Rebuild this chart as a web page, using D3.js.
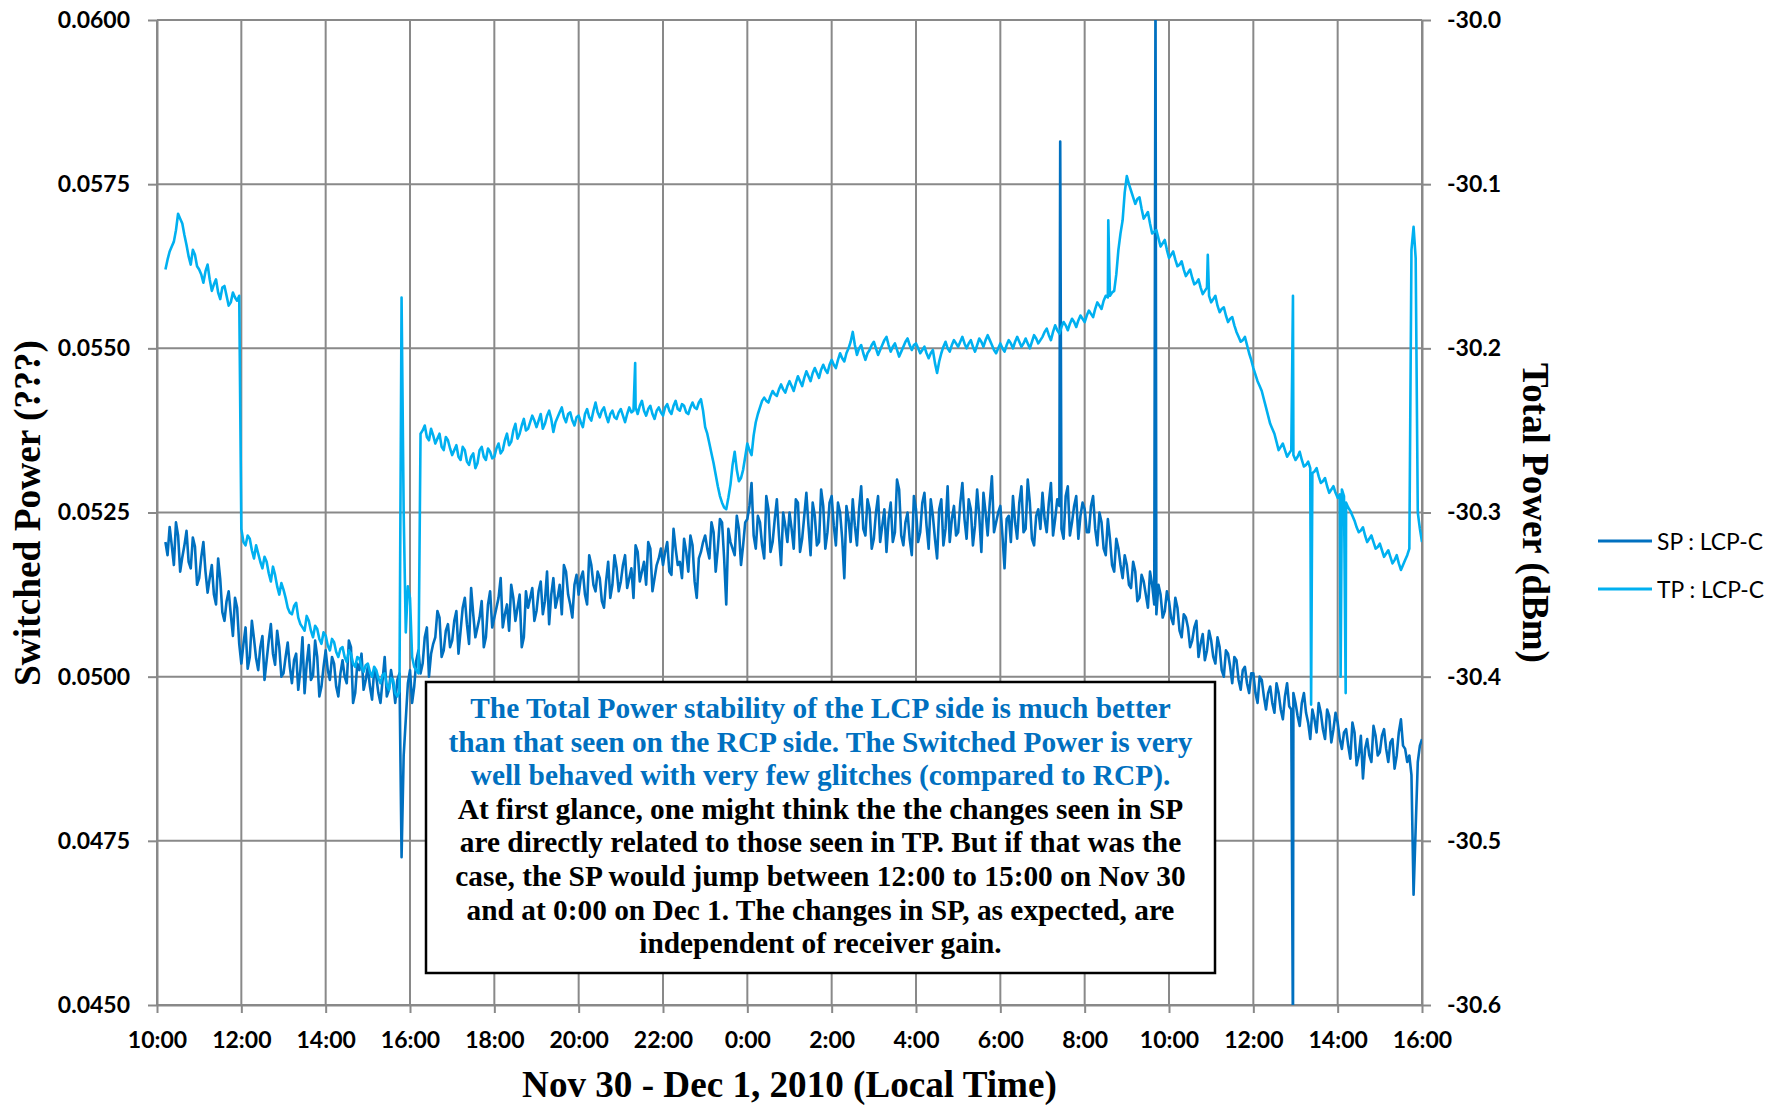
<!DOCTYPE html>
<html>
<head>
<meta charset="utf-8">
<script src="https://cdn.jsdelivr.net/npm/d3@7"></script>
<style>
  html, body { margin: 0; padding: 0; background: #ffffff; }
  svg { display: block; }
</style>
</head>
<body>
<script>
// ---------------- DATA ----------------
// Sampling grid: hours after 10:00 on Nov 30, 2010
const sampleStartHour = 0.2;   // main samples: 0.2, 0.3, ... 30.0
const midStartHour = 0.25;     // in-between samples: 0.25, 0.35, ... 29.95
const sampleStepHour = 0.1;

// Switched Power (left axis), main samples
const spValues = [
  0.05205, 0.05228, 0.05170, 0.05215, 0.05182, 0.05222, 0.05165, 0.05198,
  0.05150, 0.05205, 0.05128, 0.05170, 0.05110, 0.05148, 0.05085, 0.05130, 0.05062, 0.05105,
  0.05020, 0.05075, 0.05030, 0.05058, 0.05010, 0.05062, 0.05025, 0.05080, 0.05018, 0.05045,
  0.05005, 0.05052, 0.04990, 0.05035, 0.05010, 0.04975, 0.05048, 0.05002, 0.05030, 0.04985,
  0.05040, 0.04995, 0.05020, 0.04970, 0.05025, 0.04990, 0.05045, 0.04975, 0.05010, 0.04980,
  0.05015, 0.04965, 0.05000, 0.04960, 0.05030, 0.04980, 0.04990, 0.04995, 0.04725, 0.04935,
  0.05010, 0.04985, 0.05040, 0.05020, 0.05075, 0.05035, 0.05060, 0.05090, 0.05040, 0.05080,
  0.05055, 0.05100, 0.05070, 0.05120, 0.05050, 0.05095, 0.05075, 0.05115, 0.05060, 0.05130,
  0.05090, 0.05120, 0.05075, 0.05110, 0.05140, 0.05085, 0.05125, 0.05060, 0.05105, 0.05135,
  0.05100, 0.05145, 0.05115, 0.05080, 0.05150, 0.05120, 0.05095, 0.05160, 0.05110, 0.05140,
  0.05125, 0.05160, 0.05110, 0.05170, 0.05130, 0.05150, 0.05105, 0.05175, 0.05140, 0.05165,
  0.05145, 0.05185, 0.05150, 0.05120, 0.05190, 0.05160, 0.05140, 0.05195, 0.05150, 0.05180,
  0.05170, 0.05205, 0.05155, 0.05195, 0.05175, 0.05210, 0.05160, 0.05200, 0.05120, 0.05190,
  0.05215, 0.05180, 0.05220, 0.05195, 0.05235, 0.05110, 0.05205, 0.05185, 0.05225, 0.05200,
  0.05240, 0.05295, 0.05195, 0.05235, 0.05180, 0.05255, 0.05205, 0.05270, 0.05170, 0.05230,
  0.05250, 0.05195, 0.05265, 0.05210, 0.05280, 0.05185, 0.05245, 0.05205, 0.05260, 0.05220,
  0.05275, 0.05200, 0.05250, 0.05150, 0.05240, 0.05270, 0.05200, 0.05290, 0.05215, 0.05255,
  0.05210, 0.05275, 0.05230, 0.05190, 0.05265, 0.05220, 0.05285, 0.05200, 0.05250, 0.05185,
  0.05255, 0.05220, 0.05280, 0.05195, 0.05245, 0.05180, 0.05270, 0.05225, 0.05205, 0.05260,
  0.05220, 0.05295, 0.05210, 0.05255, 0.05230, 0.05245, 0.05280, 0.05215, 0.05305, 0.05235,
  0.05260, 0.05165, 0.05245, 0.05275, 0.05210, 0.05290, 0.05225, 0.05265, 0.05200, 0.05255,
  0.05280, 0.05220, 0.05295, 0.05240, 0.05260, 0.05210, 0.05290, 0.05235, 0.05275, 0.05245,
  0.05255, 0.05220, 0.05275, 0.05200, 0.05235, 0.05185, 0.05210, 0.05160, 0.05195, 0.05150,
  0.05170, 0.05135, 0.05160, 0.05120, 0.05145, 0.05105, 0.05140, 0.05095, 0.05125, 0.05100,
  0.05115, 0.05080, 0.05105, 0.05060, 0.05090, 0.05045, 0.05075, 0.05030, 0.05065, 0.05040,
  0.05055, 0.05020, 0.05045, 0.05000, 0.05035, 0.04990, 0.05025, 0.04980, 0.05015, 0.04975,
  0.05005, 0.04960, 0.04995, 0.04950, 0.04985, 0.04945, 0.04975, 0.04935, 0.04990, 0.04950,
  0.04960, 0.04925, 0.04975, 0.04930, 0.04950, 0.04915, 0.04945, 0.04905, 0.04940, 0.04920,
  0.04930, 0.04890, 0.04920, 0.04875, 0.04915, 0.04880, 0.04845, 0.04905, 0.04870, 0.04910,
  0.04885, 0.04920, 0.04870, 0.04905, 0.04880, 0.04935, 0.04890, 0.04880, 0.04668, 0.04870,
  0.04905
];
// Switched Power, in-between samples
const spMidValues = [
  0.05185, 0.05200, 0.05235, 0.05160, 0.05200, 0.05175, 0.05212, 0.05140,
  0.05182, 0.05160, 0.05150, 0.05125, 0.05180, 0.05098, 0.05115, 0.05095, 0.05120, 0.05050,
  0.05050, 0.05012, 0.05085, 0.05028, 0.05045, 0.04995, 0.05055, 0.05035, 0.05070, 0.05000,
  0.05030, 0.05015, 0.05025, 0.04980, 0.05060, 0.05020, 0.04995, 0.05055, 0.04970, 0.05015,
  0.05010, 0.05030, 0.04985, 0.05005, 0.05000, 0.05055, 0.04960, 0.05020, 0.05035, 0.04995,
  0.04985, 0.05010, 0.04975, 0.04995, 0.04970, 0.05010, 0.04960, 0.05005, 0.04880, 0.04990,
  0.04960, 0.05025, 0.05005, 0.05060, 0.05000, 0.05050, 0.05100, 0.05030, 0.05070, 0.05045,
  0.05085, 0.05035, 0.05105, 0.05080, 0.05135, 0.05060, 0.05090, 0.05045, 0.05110, 0.05075,
  0.05105, 0.05150, 0.05095, 0.05070, 0.05120, 0.05105, 0.05045, 0.05130, 0.05120, 0.05085,
  0.05130, 0.05095, 0.05160, 0.05125, 0.05105, 0.05140, 0.05170, 0.05125, 0.05090, 0.05155,
  0.05150, 0.05125, 0.05185, 0.05140, 0.05160, 0.05115, 0.05145, 0.05120, 0.05185, 0.05130,
  0.05170, 0.05135, 0.05165, 0.05200, 0.05145, 0.05175, 0.05205, 0.05130, 0.05170, 0.05195,
  0.05190, 0.05160, 0.05225, 0.05170, 0.05150, 0.05190, 0.05215, 0.05145, 0.05180, 0.05205,
  0.05195, 0.05235, 0.05160, 0.05240, 0.05180, 0.05225, 0.05195, 0.05245, 0.05170, 0.05235,
  0.05260, 0.05215, 0.05245, 0.05200, 0.05275, 0.05190, 0.05240, 0.05215, 0.05250, 0.05205,
  0.05225, 0.05270, 0.05190, 0.05245, 0.05230, 0.05265, 0.05200, 0.05285, 0.05195, 0.05265,
  0.05230, 0.05265, 0.05210, 0.05260, 0.05205, 0.05230, 0.05255, 0.05225, 0.05270, 0.05195,
  0.05250, 0.05205, 0.05255, 0.05240, 0.05205, 0.05300, 0.05215, 0.05235, 0.05210, 0.05275,
  0.05205, 0.05265, 0.05230, 0.05270, 0.05210, 0.05255, 0.05200, 0.05290, 0.05240, 0.05215,
  0.05265, 0.05240, 0.05270, 0.05200, 0.05285, 0.05190, 0.05250, 0.05265, 0.05220, 0.05250,
  0.05215, 0.05240, 0.05205, 0.05235, 0.05265, 0.05220, 0.05300, 0.05210, 0.05245, 0.05225,
  0.05240, 0.05265, 0.05215, 0.05270, 0.05225, 0.05275, 0.05215, 0.05260, 0.05210, 0.05265,
  0.05220, 0.05260, 0.05225, 0.05250, 0.05195, 0.05240, 0.05170, 0.05210, 0.05170, 0.05185,
  0.05140, 0.05175, 0.05115, 0.05155, 0.05125, 0.05160, 0.05110, 0.05140, 0.05090, 0.05130,
  0.05090, 0.05120, 0.05070, 0.05095, 0.05075, 0.05055, 0.05085, 0.05050, 0.05025, 0.05070,
  0.05030, 0.05060, 0.05010, 0.05040, 0.05015, 0.05030, 0.04995, 0.05010, 0.04990, 0.05005,
  0.04975, 0.05000, 0.04970, 0.04975, 0.04960, 0.04990, 0.04950, 0.04970, 0.04955, 0.04975,
  0.04940, 0.04960, 0.04945, 0.04905, 0.04935, 0.04960, 0.04920, 0.04950, 0.04900, 0.04945,
  0.04905, 0.04915, 0.04895, 0.04930, 0.04865, 0.04910, 0.04890, 0.04880, 0.04925, 0.04880,
  0.04910, 0.04890, 0.04900, 0.04860, 0.04915, 0.04895, 0.04870, 0.04850, 0.04770, 0.04895
];
// Narrow SP glitches [hour, value]
const spGlitches = [[21.42, 0.05815], [23.68, 0.06060], [26.94, 0.04440]];

// Total Power (right axis, dBm), main samples
const tpValues = [
  -30.152, -30.141, -30.135, -30.118, -30.124, -30.137, -30.149, -30.143,
  -30.152, -30.160, -30.149, -30.165, -30.158, -30.170, -30.162, -30.174, -30.166, -30.171,
  -30.310, -30.320, -30.316, -30.328, -30.325, -30.334, -30.330, -30.342, -30.338, -30.350,
  -30.347, -30.358, -30.362, -30.355, -30.368, -30.372, -30.366, -30.376, -30.371, -30.380,
  -30.375, -30.384, -30.379, -30.388, -30.382, -30.391, -30.386, -30.394, -30.389, -30.397,
  -30.392, -30.400, -30.396, -30.404, -30.398, -30.408, -30.402, -30.412, -30.169, -30.373,
  -30.352, -30.394, -30.398, -30.250, -30.254, -30.249, -30.258, -30.252, -30.262, -30.256,
  -30.265, -30.259, -30.268, -30.262, -30.271, -30.264, -30.270, -30.260, -30.268, -30.263,
  -30.266, -30.258, -30.262, -30.252, -30.257, -30.246, -30.252, -30.243, -30.249, -30.241,
  -30.248, -30.240, -30.246, -30.238, -30.251, -30.242, -30.236, -30.245, -30.239, -30.247,
  -30.241, -30.248, -30.237, -30.244, -30.233, -30.242, -30.236, -30.245, -30.238, -30.243,
  -30.237, -30.245, -30.236, -30.238, -30.240, -30.232, -30.241, -30.235, -30.243, -30.236,
  -30.241, -30.234, -30.240, -30.232, -30.238, -30.235, -30.240, -30.233, -30.237, -30.231,
  -30.248, -30.258, -30.270, -30.284, -30.294, -30.298, -30.283, -30.263, -30.281, -30.274,
  -30.258, -30.265, -30.245, -30.236, -30.230, -30.233, -30.226, -30.229, -30.222, -30.227,
  -30.220, -30.226, -30.217, -30.223, -30.214, -30.220, -30.212, -30.218, -30.210, -30.215,
  -30.207, -30.212, -30.203, -30.208, -30.200, -30.190, -30.204, -30.198, -30.207, -30.201,
  -30.196, -30.204, -30.198, -30.193, -30.202, -30.197, -30.205, -30.199, -30.194, -30.201,
  -30.197, -30.203, -30.199, -30.206, -30.201, -30.215, -30.203, -30.196, -30.202, -30.195,
  -30.199, -30.193, -30.200, -30.195, -30.202, -30.194, -30.199, -30.192, -30.198, -30.203,
  -30.197, -30.202, -30.195, -30.200, -30.193, -30.199, -30.194, -30.200, -30.192, -30.197,
  -30.193, -30.188, -30.195, -30.186, -30.191, -30.184, -30.189, -30.182, -30.187, -30.180,
  -30.184, -30.177, -30.181, -30.172, -30.176, -30.168, -30.168, -30.165, -30.140, -30.122,
  -30.095, -30.104, -30.112, -30.108, -30.121, -30.117, -30.130, -30.128, -30.138, -30.134,
  -30.145, -30.141, -30.150, -30.147, -30.156, -30.152, -30.161, -30.158, -30.167, -30.163,
  -30.172, -30.168, -30.178, -30.175, -30.184, -30.181, -30.190, -30.196, -30.193, -30.203,
  -30.212, -30.220, -30.226, -30.236, -30.246, -30.252, -30.262, -30.258, -30.266, -30.262,
  -30.268, -30.263, -30.272, -30.269, -30.276, -30.273, -30.282, -30.279, -30.288, -30.284,
  -30.291, -30.286, -30.294, -30.299, -30.305, -30.312, -30.309, -30.318, -30.314, -30.322,
  -30.319, -30.327, -30.323, -30.331, -30.326, -30.335, -30.329, -30.322, -30.126, -30.300,
  -30.318
];
// Total Power, in-between samples
const tpMidValues = [
  -30.146, -30.138, -30.128, -30.121, -30.131, -30.144, -30.140, -30.150,
  -30.155, -30.153, -30.158, -30.161, -30.166, -30.163, -30.168, -30.172, -30.169, -30.168,
  -30.318, -30.314, -30.323, -30.320, -30.330, -30.327, -30.337, -30.333, -30.345, -30.343,
  -30.352, -30.361, -30.357, -30.364, -30.370, -30.363, -30.372, -30.369, -30.377, -30.373,
  -30.381, -30.377, -30.385, -30.383, -30.388, -30.384, -30.392, -30.388, -30.394, -30.393,
  -30.397, -30.394, -30.401, -30.399, -30.405, -30.401, -30.410, -30.409, -30.300, -30.345,
  -30.388, -30.396, -30.252, -30.247, -30.256, -30.253, -30.255, -30.260, -30.254, -30.261,
  -30.262, -30.266, -30.260, -30.269, -30.266, -30.273, -30.262, -30.266, -30.261, -30.267,
  -30.261, -30.264, -30.256, -30.259, -30.250, -30.255, -30.247, -30.250, -30.245, -30.244,
  -30.244, -30.249, -30.241, -30.243, -30.245, -30.239, -30.242, -30.240, -30.244, -30.242,
  -30.245, -30.240, -30.242, -30.238, -30.239, -30.238, -30.241, -30.240, -30.242, -30.239,
  -30.241, -30.240, -30.239, -30.236, -30.235, -30.238, -30.237, -30.240, -30.238, -30.239,
  -30.236, -30.238, -30.235, -30.237, -30.234, -30.239, -30.236, -30.236, -30.233, -30.238,
  -30.252, -30.264, -30.277, -30.290, -30.297, -30.291, -30.271, -30.274, -30.279, -30.266,
  -30.262, -30.253, -30.240, -30.232, -30.232, -30.229, -30.228, -30.225, -30.225, -30.223,
  -30.223, -30.221, -30.220, -30.218, -30.217, -30.215, -30.215, -30.213, -30.213, -30.210,
  -30.210, -30.207, -30.206, -30.203, -30.196, -30.198, -30.200, -30.203, -30.203, -30.198,
  -30.200, -30.201, -30.195, -30.198, -30.199, -30.201, -30.202, -30.196, -30.198, -30.198,
  -30.200, -30.201, -30.203, -30.203, -30.209, -30.208, -30.199, -30.200, -30.198, -30.197,
  -30.196, -30.197, -30.197, -30.199, -30.198, -30.196, -30.195, -30.195, -30.201, -30.200,
  -30.200, -30.198, -30.197, -30.196, -30.196, -30.197, -30.197, -30.196, -30.194, -30.195,
  -30.190, -30.192, -30.190, -30.189, -30.187, -30.186, -30.185, -30.184, -30.183, -30.182,
  -30.180, -30.179, -30.176, -30.174, -30.171, -30.169, -30.166, -30.155, -30.130, -30.105,
  -30.100, -30.108, -30.109, -30.115, -30.119, -30.124, -30.129, -30.133, -30.136, -30.140,
  -30.143, -30.146, -30.149, -30.152, -30.154, -30.157, -30.160, -30.163, -30.165, -30.168,
  -30.170, -30.174, -30.176, -30.180, -30.182, -30.186, -30.193, -30.195, -30.198, -30.207,
  -30.216, -30.223, -30.231, -30.241, -30.249, -30.257, -30.260, -30.262, -30.264, -30.265,
  -30.266, -30.268, -30.271, -30.273, -30.275, -30.278, -30.281, -30.284, -30.286, -30.288,
  -30.289, -30.290, -30.297, -30.302, -30.309, -30.311, -30.314, -30.316, -30.318, -30.321,
  -30.323, -30.325, -30.327, -30.329, -30.331, -30.332, -30.326, -30.140, -30.145, -30.310
];
// Narrow TP glitches [hour, value]
const tpGlitches = [[11.34, -30.209], [22.56, -30.122], [24.92, -30.143], [26.94, -30.168],
                    [27.37, -30.417], [28.07, -30.400], [28.19, -30.410]];

const spTicks = [0.0450, 0.0475, 0.0500, 0.0525, 0.0550, 0.0575, 0.0600];
const tpTicks = [-30.6, -30.5, -30.4, -30.3, -30.2, -30.1, -30.0];
const xTickHours = [0, 2, 4, 6, 8, 10, 12, 14, 16, 18, 20, 22, 24, 26, 28, 30];

const seriesNames = ["SP : LCP-C", "TP : LCP-C"];
const seriesColors = ["#0070C0", "#00B0F0"];

const xTitle = "Nov 30 - Dec 1, 2010 (Local Time)";
const yLeftTitle = "Switched Power (???)";
const yRightTitle = "Total Power (dBm)";

const noteLines = [
  {text: "The Total Power stability of the LCP side is much better", color: "#0070C0", w: 703},
  {text: "than that seen on the RCP side. The Switched Power is very", color: "#0070C0", w: 744},
  {text: "well behaved with very few glitches (compared to RCP).", color: "#0070C0", w: 698},
  {text: "At first glance, one might think the the changes seen in SP", color: "#000000", w: 723},
  {text: "are directly related to those seen in TP. But if that was the", color: "#000000", w: 723},
  {text: "case, the SP would jump between 12:00 to 15:00 on Nov 30", color: "#000000", w: 731},
  {text: "and at 0:00 on Dec 1. The changes in SP, as expected, are", color: "#000000", w: 710},
  {text: "independent of receiver gain.", color: "#000000", w: 362}
];

// ---------------- LAYOUT ----------------
const W = 1778, H = 1105;
const plot = {left: 157, right: 1422, top: 20, bottom: 1005};
const gridColor = "#898989";
const tickFont = "Lato, 'DejaVu Sans', sans-serif";
const serif = "'Liberation Serif', 'Times New Roman', serif";

const startDate = new Date(2010, 10, 30, 10, 0, 0);
const toDate = h => new Date(startDate.getTime() + h * 3600e3);

const x = d3.scaleTime().domain([toDate(0), toDate(30)]).range([plot.left, plot.right]);
const ySP = d3.scaleLinear().domain([0.045, 0.060]).range([plot.bottom, plot.top]);
const yTP = d3.scaleLinear().domain([-30.6, -30.0]).range([plot.bottom, plot.top]);

function buildSeries(values, midValues, glitches) {
  const hr = (s, i) => Math.round((s + i * sampleStepHour) * 1000) / 1000;
  const pts = values.map((v, i) => [hr(sampleStartHour, i), v])
    .concat(midValues.map((v, i) => [hr(midStartHour, i), v]))
    .concat(glitches);
  return pts.sort((a, b) => a[0] - b[0]);
}
const spData = buildSeries(spValues, spMidValues, spGlitches);
const tpData = buildSeries(tpValues, tpMidValues, tpGlitches);

const svg = d3.select("body").append("svg").attr("width", W).attr("height", H);
svg.append("rect").attr("width", W).attr("height", H).attr("fill", "#fff");

svg.append("defs").append("clipPath").attr("id", "plotClip")
  .append("rect").attr("x", plot.left).attr("y", plot.top)
  .attr("width", plot.right - plot.left).attr("height", plot.bottom - plot.top);

// gridlines
const grid = svg.append("g");
grid.selectAll("line.h").data(spTicks).join("line")
  .attr("x1", plot.left).attr("x2", plot.right)
  .attr("y1", d => ySP(d)).attr("y2", d => ySP(d))
  .attr("stroke", gridColor).attr("stroke-width", 2);
grid.selectAll("line.v").data(xTickHours).join("line")
  .attr("x1", d => x(toDate(d))).attr("x2", d => x(toDate(d)))
  .attr("y1", plot.top).attr("y2", plot.bottom)
  .attr("stroke", gridColor).attr("stroke-width", 2);

// axes
function styleAxis(g) {
  g.select(".domain").attr("stroke", gridColor).attr("stroke-width", 2);
  g.selectAll(".tick line").attr("stroke", gridColor).attr("stroke-width", 2);
  g.selectAll(".tick text").attr("fill", "#000")
    .style("font-family", tickFont).style("font-weight", "700").style("font-size", "23px");
}
svg.append("g").attr("transform", `translate(${plot.left},0)`)
  .call(d3.axisLeft(ySP).tickValues(spTicks).tickFormat(d => d.toFixed(4))
    .tickSize(9).tickSizeOuter(0).tickPadding(18))
  .call(styleAxis);
svg.append("g").attr("transform", `translate(${plot.right},0)`)
  .call(d3.axisRight(yTP).tickValues(tpTicks).tickFormat(d => d.toFixed(1))
    .tickSize(9).tickSizeOuter(0).tickPadding(16))
  .call(styleAxis);
svg.append("g").attr("transform", `translate(0,${plot.bottom})`)
  .call(d3.axisBottom(x).tickValues(xTickHours.map(toDate)).tickFormat(d3.timeFormat("%-H:%M"))
    .tickSize(8).tickSizeOuter(0).tickPadding(19))
  .call(styleAxis);

// series (TP drawn above SP)
const lines = svg.append("g").attr("clip-path", "url(#plotClip)");
lines.append("path").datum(spData)
  .attr("fill", "none").attr("stroke", seriesColors[0]).attr("stroke-width", 2.6)
  .attr("stroke-linejoin", "round")
  .attr("d", d3.line().x(d => x(toDate(d[0]))).y(d => ySP(d[1])));
lines.append("path").datum(tpData)
  .attr("fill", "none").attr("stroke", seriesColors[1]).attr("stroke-width", 2.6)
  .attr("stroke-linejoin", "round")
  .attr("d", d3.line().x(d => x(toDate(d[0]))).y(d => yTP(d[1])));

// helper: scale font so text spans target width
function fitFont(sel, base, target) {
  sel.style("font-size", base + "px");
  const w = sel.node().getComputedTextLength();
  const size = base * target / w;
  sel.style("font-size", size + "px");
  return size;
}

// axis titles
const xt = svg.append("text").attr("x", (plot.left + plot.right) / 2).attr("y", 1097)
  .attr("text-anchor", "middle").style("font-family", serif).style("font-weight", "700")
  .text(xTitle);
fitFont(xt, 36, 535);

const ylt = svg.append("text").attr("transform", `translate(40,513) rotate(-90)`)
  .attr("text-anchor", "middle").style("font-family", serif).style("font-weight", "700")
  .text(yLeftTitle);
fitFont(ylt, 36, 346);

const yrt = svg.append("text").attr("transform", `translate(1523,513) rotate(90)`)
  .attr("text-anchor", "middle").style("font-family", serif).style("font-weight", "700")
  .text(yRightTitle);
fitFont(yrt, 36, 300);

// legend
const legendY = [541, 589];
const leg = svg.append("g");
let legSize = null;
seriesNames.forEach((name, i) => {
  leg.append("line").attr("x1", 1598).attr("x2", 1652)
    .attr("y1", legendY[i]).attr("y2", legendY[i])
    .attr("stroke", seriesColors[i]).attr("stroke-width", 3);
  const t = leg.append("text").attr("x", 1657).attr("y", legendY[i])
    .attr("dominant-baseline", "central")
    .style("font-family", tickFont).style("font-weight", "400").attr("fill", "#000")
    .text(name);
  if (legSize === null) legSize = fitFont(t, 24, 106);
  else t.style("font-size", legSize + "px");
});

// annotation box
const box = {x: 426, y: 682, w: 789, h: 291};
svg.append("rect").attr("x", box.x).attr("y", box.y).attr("width", box.w).attr("height", box.h)
  .attr("fill", "#fff").attr("stroke", "#000").attr("stroke-width", 2.5);
const noteG = svg.append("g");
const baseSize = 27;
const noteTexts = noteLines.map((ln, i) => noteG.append("text")
  .attr("x", box.x + box.w / 2).attr("y", 718 + i * 33.6)
  .attr("text-anchor", "middle").attr("fill", ln.color)
  .style("font-family", serif).style("font-weight", "700").style("font-size", baseSize + "px")
  .text(ln.text));
let measured = 0, target = 0;
noteTexts.forEach((t, i) => { measured += t.node().getComputedTextLength(); target += noteLines[i].w; });
const noteSize = baseSize * target / measured;
noteTexts.forEach(t => t.style("font-size", noteSize + "px"));
</script>
</body>
</html>
